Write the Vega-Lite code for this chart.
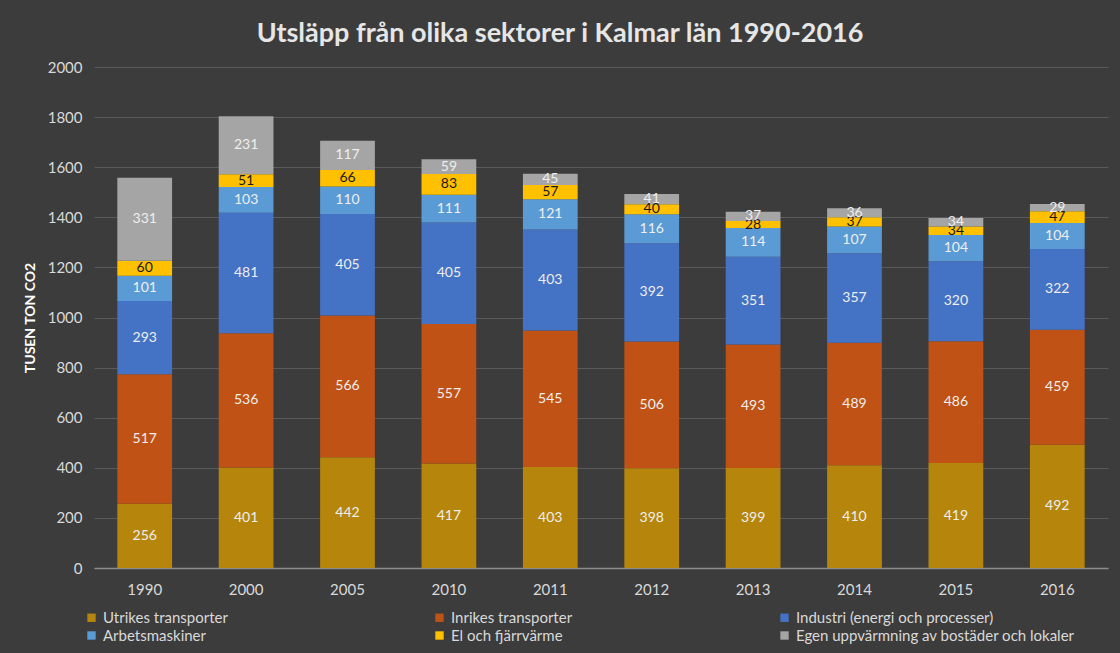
{
  "$schema": "https://vega.github.io/schema/vega-lite/v6.json",
  "width": 1014,
  "height": 501,
  "autosize": {"type": "none"},
  "padding": {"left": 94, "top": 67, "right": 12, "bottom": 85},
  "background": "#3c3c3c",
  "title": {
    "text": "Utsläpp från olika sektorer i Kalmar län 1990-2016",
    "font": "Lato",
    "fontSize": 27,
    "fontWeight": "bold",
    "color": "#e6e6e6",
    "anchor": "middle",
    "dx": -41,
    "offset": 12
  },
  "config": {
    "view": {"stroke": null},
    "font": "Lato"
  },
  "data": {
    "values": [
      {"year": "1990", "sector": "Utrikes transporter", "value": 256},
      {"year": "1990", "sector": "Inrikes transporter", "value": 517},
      {"year": "1990", "sector": "Industri (energi och processer)", "value": 293},
      {"year": "1990", "sector": "Arbetsmaskiner", "value": 101},
      {"year": "1990", "sector": "El och fjärrvärme", "value": 60},
      {"year": "1990", "sector": "Egen uppvärmning av bostäder och lokaler", "value": 331},
      {"year": "2000", "sector": "Utrikes transporter", "value": 401},
      {"year": "2000", "sector": "Inrikes transporter", "value": 536},
      {"year": "2000", "sector": "Industri (energi och processer)", "value": 481},
      {"year": "2000", "sector": "Arbetsmaskiner", "value": 103},
      {"year": "2000", "sector": "El och fjärrvärme", "value": 51},
      {"year": "2000", "sector": "Egen uppvärmning av bostäder och lokaler", "value": 231},
      {"year": "2005", "sector": "Utrikes transporter", "value": 442},
      {"year": "2005", "sector": "Inrikes transporter", "value": 566},
      {"year": "2005", "sector": "Industri (energi och processer)", "value": 405},
      {"year": "2005", "sector": "Arbetsmaskiner", "value": 110},
      {"year": "2005", "sector": "El och fjärrvärme", "value": 66},
      {"year": "2005", "sector": "Egen uppvärmning av bostäder och lokaler", "value": 117},
      {"year": "2010", "sector": "Utrikes transporter", "value": 417},
      {"year": "2010", "sector": "Inrikes transporter", "value": 557},
      {"year": "2010", "sector": "Industri (energi och processer)", "value": 405},
      {"year": "2010", "sector": "Arbetsmaskiner", "value": 111},
      {"year": "2010", "sector": "El och fjärrvärme", "value": 83},
      {"year": "2010", "sector": "Egen uppvärmning av bostäder och lokaler", "value": 59},
      {"year": "2011", "sector": "Utrikes transporter", "value": 403},
      {"year": "2011", "sector": "Inrikes transporter", "value": 545},
      {"year": "2011", "sector": "Industri (energi och processer)", "value": 403},
      {"year": "2011", "sector": "Arbetsmaskiner", "value": 121},
      {"year": "2011", "sector": "El och fjärrvärme", "value": 57},
      {"year": "2011", "sector": "Egen uppvärmning av bostäder och lokaler", "value": 45},
      {"year": "2012", "sector": "Utrikes transporter", "value": 398},
      {"year": "2012", "sector": "Inrikes transporter", "value": 506},
      {"year": "2012", "sector": "Industri (energi och processer)", "value": 392},
      {"year": "2012", "sector": "Arbetsmaskiner", "value": 116},
      {"year": "2012", "sector": "El och fjärrvärme", "value": 40},
      {"year": "2012", "sector": "Egen uppvärmning av bostäder och lokaler", "value": 41},
      {"year": "2013", "sector": "Utrikes transporter", "value": 399},
      {"year": "2013", "sector": "Inrikes transporter", "value": 493},
      {"year": "2013", "sector": "Industri (energi och processer)", "value": 351},
      {"year": "2013", "sector": "Arbetsmaskiner", "value": 114},
      {"year": "2013", "sector": "El och fjärrvärme", "value": 28},
      {"year": "2013", "sector": "Egen uppvärmning av bostäder och lokaler", "value": 37},
      {"year": "2014", "sector": "Utrikes transporter", "value": 410},
      {"year": "2014", "sector": "Inrikes transporter", "value": 489},
      {"year": "2014", "sector": "Industri (energi och processer)", "value": 357},
      {"year": "2014", "sector": "Arbetsmaskiner", "value": 107},
      {"year": "2014", "sector": "El och fjärrvärme", "value": 37},
      {"year": "2014", "sector": "Egen uppvärmning av bostäder och lokaler", "value": 36},
      {"year": "2015", "sector": "Utrikes transporter", "value": 419},
      {"year": "2015", "sector": "Inrikes transporter", "value": 486},
      {"year": "2015", "sector": "Industri (energi och processer)", "value": 320},
      {"year": "2015", "sector": "Arbetsmaskiner", "value": 104},
      {"year": "2015", "sector": "El och fjärrvärme", "value": 34},
      {"year": "2015", "sector": "Egen uppvärmning av bostäder och lokaler", "value": 34},
      {"year": "2016", "sector": "Utrikes transporter", "value": 492},
      {"year": "2016", "sector": "Inrikes transporter", "value": 459},
      {"year": "2016", "sector": "Industri (energi och processer)", "value": 322},
      {"year": "2016", "sector": "Arbetsmaskiner", "value": 104},
      {"year": "2016", "sector": "El och fjärrvärme", "value": 47},
      {"year": "2016", "sector": "Egen uppvärmning av bostäder och lokaler", "value": 29}
    ]
  },
  "transform": [
    {"calculate": "indexof(['Utrikes transporter','Inrikes transporter','Industri (energi och processer)','Arbetsmaskiner','El och fjärrvärme','Egen uppvärmning av bostäder och lokaler'], datum.sector)", "as": "ord"},
    {"stack": "value", "groupby": ["year"], "sort": [{"field": "ord", "order": "ascending"}], "as": ["y0", "y1"]},
    {"calculate": "(datum.y0 + datum.y1) / 2", "as": "mid"}
  ],
  "encoding": {
    "x": {
      "field": "year",
      "type": "nominal",
      "scale": {"paddingInner": 0.46, "paddingOuter": 0.23},
      "axis": {
        "title": null,
        "labelAngle": 0,
        "labelColor": "#d9d9d9",
        "labelFontSize": 15,
        "labelPadding": 14,
        "ticks": false,
        "domainColor": "#8c8c8c",
        "domainWidth": 1.5
      }
    }
  },
  "layer": [
    {
      "mark": {"type": "bar"},
      "encoding": {
        "y": {
          "field": "y0",
          "type": "quantitative",
          "scale": {"domain": [0, 2000]},
          "axis": {
            "title": "TUSEN TON CO2",
            "titleColor": "#ffffff",
            "titleFontSize": 14,
            "titleFontWeight": "bold",
            "titlePadding": 10,
            "labelColor": "#d9d9d9",
            "labelFontSize": 15,
            "labelPadding": 12,
            "format": "d",
            "labelOverlap": false,
            "values": [0, 200, 400, 600, 800, 1000, 1200, 1400, 1600, 1800, 2000],
            "ticks": false,
            "domain": false,
            "gridColor": "#5a5a5a",
            "gridWidth": 1
          }
        },
        "y2": {"field": "y1"},
        "color": {
          "field": "sector",
          "type": "nominal",
          "sort": ["Utrikes transporter", "Inrikes transporter", "Industri (energi och processer)", "Arbetsmaskiner", "El och fjärrvärme", "Egen uppvärmning av bostäder och lokaler"],
          "scale": {
            "domain": ["Utrikes transporter", "Inrikes transporter", "Industri (energi och processer)", "Arbetsmaskiner", "El och fjärrvärme", "Egen uppvärmning av bostäder och lokaler"],
            "range": ["#b5860b", "#bf5214", "#4472c4", "#5b9bd5", "#ffc000", "#a5a5a5"]
          },
          "legend": {
            "title": null,
            "orient": "none",
            "legendX": -10,
            "legendY": 543,
            "direction": "horizontal",
            "columns": 3,
            "symbolType": "square",
            "symbolSize": 70,
            "symbolStrokeWidth": 0,
            "labelColor": "#d9d9d9",
            "labelFontSize": 15,
            "labelOffset": 4,
            "columnPadding": 204,
            "rowPadding": 2,
            "labelLimit": 400
          }
        }
      }
    },
    {
      "mark": {"type": "text", "fontSize": 14, "baseline": "middle"},
      "encoding": {
        "y": {"field": "mid", "type": "quantitative"},
        "text": {"field": "value", "type": "quantitative"},
        "color": {
          "condition": {"test": "datum.sector === 'El och fjärrvärme'", "value": "#1a1a1a"},
          "value": "#eeeeee"
        }
      }
    }
  ]
}
